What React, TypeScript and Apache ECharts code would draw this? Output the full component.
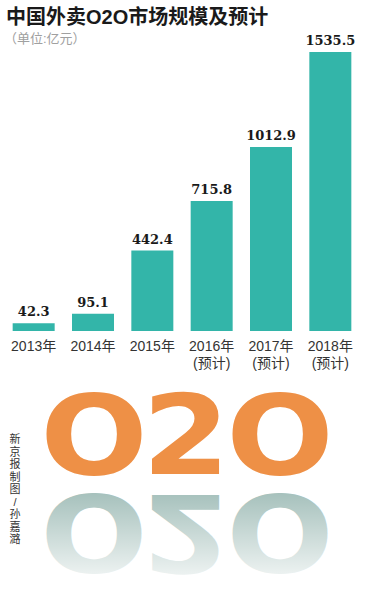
import React, { useEffect, useRef } from "react";
import * as echarts from "echarts";

const categories = ["2013年", "2014年", "2015年", "2016年\n(预计)", "2017年\n(预计)", "2018年\n(预计)"];
const values = [42.3, 95.1, 442.4, 715.8, 1012.9, 1535.5];
const titleText = "中国外卖O2O市场规模及预计";
const unitText = "（单位:亿元）";
const creditText = "新京报制图/孙嘉潞";
const logoLetters = ["O", "2", "O"];
const logoCenters = [94, 186, 280];

export default function App() {
  const ref = useRef<HTMLDivElement>(null);
  useEffect(() => {
    document.body.style.margin = "0";
    const chart = echarts.init(ref.current!, null, { renderer: "svg" });
    const logoFont = 'bold 110px "DejaVu Sans"';
    const logo: any[] = [];
    logoLetters.forEach((ch, i) => {
      logo.push({
        type: "text",
        x: logoCenters[i],
        y: 436,
        scaleX: 1.15,
        style: { text: ch, font: logoFont, fill: "#EE9046", textAlign: "center", textVerticalAlign: "middle" },
      });
      logo.push({
        type: "text",
        x: logoCenters[i],
        y: 532,
        scaleX: 1.15,
        scaleY: -0.98,
        style: { text: ch, font: logoFont, textAlign: "center", textVerticalAlign: "middle", fill: "#A2BEB9" },
      });
    });
    logo.push({
      type: "rect",
      shape: { x: 40, y: 488, width: 300, height: 92 },
      style: {
        fill: new echarts.graphic.LinearGradient(0, 0, 0, 1, [
          { offset: 0, color: "rgba(255,255,255,0)" },
          { offset: 1, color: "rgba(255,255,255,0.85)" },
        ]),
      },
    });
    const credit = creditText.split("").map((ch, i) => ({
      type: "text",
      x: 15,
      y: 439 + i * 12.5,
      style: {
        text: ch,
        font: '11px "Liberation Sans", "Noto Sans CJK SC"',
        fill: "#333",
        textAlign: "center",
        textVerticalAlign: "middle",
      },
    }));
    chart.setOption({
      animation: false,
      grid: { left: 4, right: 6, top: 52, bottom: 269, containLabel: false },
      xAxis: {
        type: "category",
        data: categories,
        axisLine: { show: false },
        axisTick: { show: false },
        axisLabel: {
          interval: 0,
          fontSize: 14,
          lineHeight: 17,
          margin: 6,
          color: "#333",
          fontFamily: '"Liberation Sans", "Noto Sans CJK SC", sans-serif',
        },
      },
      yAxis: { type: "value", min: 0, max: 1535.5, show: false, splitLine: { show: false } },
      series: [
        {
          type: "bar",
          data: values,
          barWidth: 42,
          itemStyle: { color: "#33B5A9" },
          label: {
            show: true,
            position: "top",
            distance: 5,
            fontFamily: '"DejaVu Serif", serif',
            fontWeight: "bold",
            fontSize: 13,
            color: "#1a1a1a",
          },
        },
      ],
      graphic: [
        {
          type: "text",
          x: 6,
          y: 17,
          style: {
            text: titleText,
            font: 'bold 20px "Liberation Sans", "Noto Sans CJK SC"',
            fill: "#1a1a1a",
            textVerticalAlign: "middle",
          },
        },
        {
          type: "text",
          x: 4,
          y: 38,
          style: {
            text: unitText,
            font: '13px "Liberation Sans", "Noto Sans CJK SC"',
            fill: "#a0a0a0",
            textVerticalAlign: "middle",
          },
        },
        ...credit,
        ...logo,
      ],
    });
    return () => chart.dispose();
  }, []);
  return <div ref={ref} style={{ width: 366, height: 600 }} />;
}
